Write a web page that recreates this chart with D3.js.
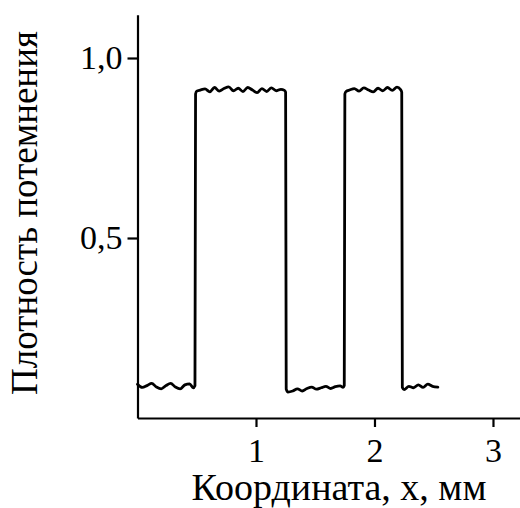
<!DOCTYPE html>
<html lang="ru">
<head>
  <meta charset="UTF-8">
  <title>Плотность потемнения</title>
  <script src="https://d3js.org/d3.v7.min.js"></script>
  <style>
    body { margin: 0; background: #fff; }
  </style>
</head>
<body>
  <svg width="520" height="508"></svg>
  <script>
    // profile: coordinate (mm) and density
    const xs = [0.00, 0.04, 0.08, 0.12, 0.16, 0.20, 0.24, 0.28, 0.32, 0.36, 0.40, 0.44, 0.47, 0.485,
      0.49, 0.50, 0.53, 0.57, 0.61, 0.65, 0.69, 0.73, 0.77, 0.81, 0.85, 0.89, 0.93, 0.97, 1.01, 1.05, 1.09, 1.13, 1.17, 1.21, 1.24, 1.25,
      1.255, 1.27, 1.31, 1.35, 1.39, 1.43, 1.47, 1.51, 1.55, 1.59, 1.63, 1.67, 1.71, 1.735, 1.745,
      1.75, 1.76, 1.79, 1.83, 1.87, 1.91, 1.95, 1.99, 2.03, 2.07, 2.11, 2.15, 2.19, 2.22, 2.23,
      2.235, 2.25, 2.29, 2.33, 2.37, 2.41, 2.45, 2.49, 2.535];
    const density = [0.094, 0.085, 0.090, 0.096, 0.086, 0.081, 0.090, 0.096, 0.086, 0.081, 0.092, 0.095, 0.084, 0.090,
      0.900, 0.908, 0.911, 0.914, 0.906, 0.918, 0.908, 0.915, 0.920, 0.909, 0.916, 0.907, 0.918, 0.911, 0.904, 0.915, 0.907, 0.917, 0.909, 0.913, 0.910, 0.905,
      0.080, 0.072, 0.075, 0.081, 0.075, 0.082, 0.086, 0.080, 0.084, 0.088, 0.082, 0.087, 0.089, 0.085, 0.090,
      0.900, 0.907, 0.911, 0.915, 0.908, 0.917, 0.911, 0.906, 0.916, 0.909, 0.918, 0.910, 0.919, 0.912, 0.905,
      0.085, 0.079, 0.088, 0.084, 0.092, 0.085, 0.094, 0.088, 0.086];
    const xTicks = [1, 2, 3];
    const yTicks = [0.5, 1.0];
    const xTitle = "Координата, x, мм";
    const yTitle = "Плотность потемнения";

    const serif = "'Liberation Serif', 'Times New Roman', 'DejaVu Serif', serif";
    const svg = d3.select("svg").attr("font-family", serif);
    const x = d3.scaleLinear().domain([0, 3.25]).range([137.5, 522.6]);
    const y = d3.scaleLinear().domain([0, 1.12]).range([418, 14.8]);

    const fmt = d => d3.format(".1f")(d).replace(".", ",");

    const xAxis = svg.append("g")
      .attr("transform", `translate(0,${y(0)})`)
      .call(d3.axisBottom(x).tickValues(xTicks).tickSize(9).tickPadding(11).tickSizeOuter(0).tickFormat(d => d));
    const yAxis = svg.append("g")
      .attr("transform", `translate(${x(0)},0)`)
      .call(d3.axisLeft(y).tickValues(yTicks).tickSize(10).tickPadding(5).tickSizeOuter(0).tickFormat(fmt));

    [xAxis, yAxis].forEach(g => {
      g.attr("font-family", serif).attr("font-size", 34);
      g.selectAll("path, line").attr("stroke", "#000").attr("stroke-width", 2.2);
      g.selectAll("text").attr("fill", "#000");
    });
    xAxis.selectAll("text").attr("dy", "0.71em");

    const line = d3.line()
      .x(d => x(d[0]))
      .y(d => y(d[1]))
      .curve(d3.curveMonotoneX);

    svg.append("path")
      .datum(xs.map((v, i) => [v, density[i]]))
      .attr("fill", "none")
      .attr("stroke", "#000")
      .attr("stroke-width", 2.8)
      .attr("stroke-linejoin", "round")
      .attr("stroke-linecap", "round")
      .attr("d", line);

    svg.append("text")
      .attr("x", 339)
      .attr("y", 500)
      .attr("text-anchor", "middle")
      .attr("font-size", 38)
      .text(xTitle);

    svg.append("text")
      .attr("transform", "translate(37,213) rotate(-90)")
      .attr("text-anchor", "middle")
      .attr("font-size", 37)
      .text(yTitle);
  </script>
</body>
</html>
